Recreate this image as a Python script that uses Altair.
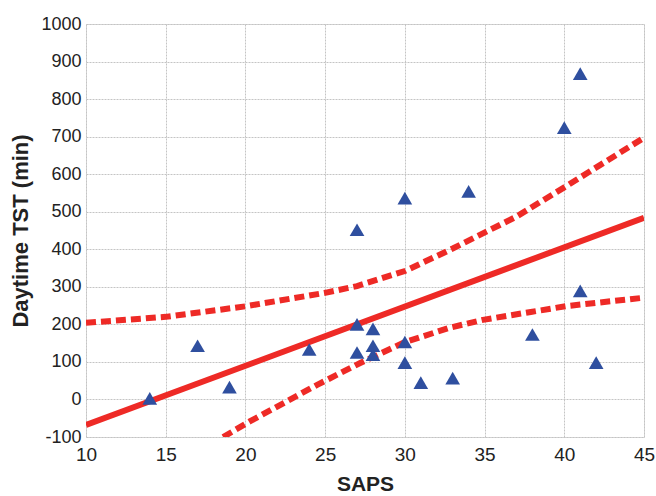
import altair as alt
import pandas as pd

# Scatter data
saps = [14, 17, 19, 24, 27, 27, 27, 28, 28, 28, 30, 30, 30, 31, 33, 34, 38, 40, 41, 41, 42]
tst = [3, 143, 33, 133, 452, 200, 125, 188, 143, 119, 536, 153, 98, 45, 57, 554, 173, 724, 868, 289, 98]

# Regression line
fit_x = [10, 45]
fit_y = [-68, 484]

# Confidence band curves
upper_x = [10, 15, 20, 25, 27, 30, 33, 37, 40, 45]
upper_y = [204, 220, 248, 284, 302, 342, 402, 487, 565, 697]
lower_x = [18.6, 20.3, 24.5, 27.2, 29.9, 32.8, 34.9, 37.9, 40.2, 45]
lower_y = [-100, -58, 39, 97, 151, 191, 212, 233, 249, 271]

x_ticks = [10, 15, 20, 25, 30, 35, 40, 45]
y_ticks = [-100, 0, 100, 200, 300, 400, 500, 600, 700, 800, 900, 1000]

pts = pd.DataFrame({"SAPS": saps, "TST": tst})
fit = pd.DataFrame({"SAPS": fit_x, "TST": fit_y})
up = pd.DataFrame({"SAPS": upper_x, "TST": upper_y})
lo = pd.DataFrame({"SAPS": lower_x, "TST": lower_y})

LABEL_FONT = "Liberation Sans, Arial"
TITLE_FONT = "Liberation Sans, Arial"
RED = "#ee2a26"

xs = alt.Scale(domain=[10, 45], nice=False, zero=False)
ys = alt.Scale(domain=[-100, 1000], nice=False, zero=False)

xax = alt.Axis(values=x_ticks, title="SAPS", ticks=False, domain=False,
               labelFont=LABEL_FONT, labelFontSize=19, labelColor="#222",
               labelPadding=8, titleFont=TITLE_FONT, titleFontSize=21,
               titleFontWeight="bold", titleColor="#222", titlePadding=9,
               gridColor="#c4c4c4", gridDash=[2, 1], gridWidth=1,
               labelFlush=False, labelOverlap=False, labelExpr="'' + datum.value")
yax = alt.Axis(values=y_ticks, title="Daytime TST (min)", ticks=False, domain=False,
               labelFont=LABEL_FONT, labelFontSize=18, labelColor="#222",
               labelPadding=5, titleFont=TITLE_FONT, titleFontSize=22,
               titleFontWeight="bold", titleColor="#222", titlePadding=8,
               gridColor="#c4c4c4", gridDash=[2, 1], gridWidth=1,
               labelFlush=False, labelOverlap=False, labelExpr="'' + datum.value")

X = alt.X("SAPS:Q", scale=xs, axis=xax)
Y = alt.Y("TST:Q", scale=ys, axis=yax)

upper_line = alt.Chart(up).mark_line(color=RED, strokeWidth=6, strokeDash=[10, 5], clip=True).encode(x=X, y=Y)
lower_line = alt.Chart(lo).mark_line(color=RED, strokeWidth=6, strokeDash=[10, 5], clip=True).encode(x=X, y=Y)
fit_line = alt.Chart(fit).mark_line(color=RED, strokeWidth=6, clip=True).encode(x=X, y=Y)
points = alt.Chart(pts).mark_point(shape="triangle-up", filled=True, color="#2f4f9f",
                                   size=215, opacity=1).encode(x=X, y=Y)

chart = alt.layer(upper_line, lower_line, fit_line, points).properties(
    width=558, height=413,
    autosize=alt.AutoSizeParams(type="none"),
    padding={"left": 86, "top": 24, "right": 12, "bottom": 59},
).configure_view(stroke="#000", strokeWidth=1.2).configure(background="white")

chart.save("out.html", embed_options={"renderer": "svg", "actions": False})
